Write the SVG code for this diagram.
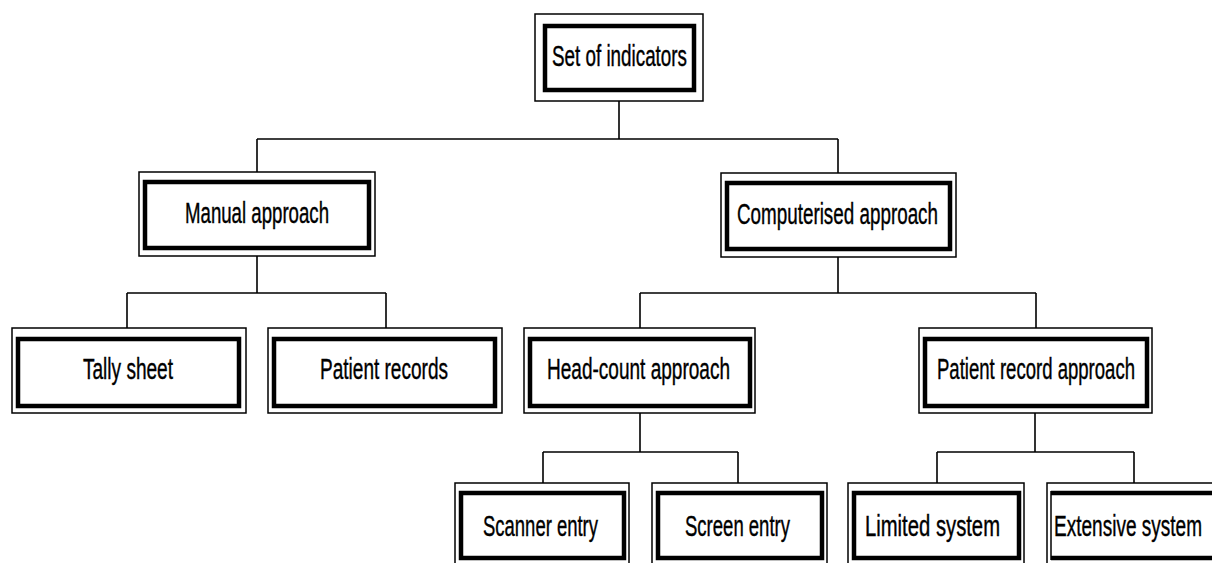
<svg xmlns="http://www.w3.org/2000/svg" width="1212" height="563" viewBox="0 0 1212 563">
<style>
.o{fill:#fff;stroke:#000;stroke-width:1.5}
.i{fill:none;stroke:#000;stroke-width:4.5}
.th{fill:none;stroke:#000;stroke-width:1.5}
.t{font-family:"Liberation Sans",Arial,sans-serif;font-size:29px;fill:#000;stroke:#000;stroke-width:0.4;text-anchor:middle}
.c{fill:none;stroke:#000;stroke-width:1.6}
</style>
<rect width="1212" height="563" fill="#fff"/>
<g id="connectors" class="c">
<path d="M619 101V139M257 139H838M257 139V172M838 139V173"/>
<path d="M257 256V293M127 293H386M127 293V328M386 293V328"/>
<path d="M838 257V293M640 293H1036M640 293V328M1036 293V328"/>
<path d="M640 413V452M543 452H738M543 452V483M738 452V483"/>
<path d="M1035 413V452M937 452H1134M937 452V483M1134 452V483"/>
</g>
<g id="n-set">
<rect class="o" x="535" y="14" width="168" height="87"/>
<rect class="i" x="545" y="26" width="149" height="64"/>
<text class="t" x="619.5" y="66" textLength="135" lengthAdjust="spacingAndGlyphs">Set of indicators</text>
</g>
<g id="n-manual">
<rect class="o" x="139" y="172" width="236" height="84"/>
<rect class="i" x="145" y="182" width="224" height="66"/>
<text class="t" x="257" y="223" textLength="144" lengthAdjust="spacingAndGlyphs">Manual approach</text>
</g>
<g id="n-comp">
<rect class="o" x="721" y="173" width="235" height="84"/>
<rect class="i" x="727" y="183" width="223" height="66"/>
<text class="t" x="837.5" y="224" textLength="201" lengthAdjust="spacingAndGlyphs">Computerised approach</text>
</g>
<g id="n-tally">
<rect class="o" x="12" y="328" width="234" height="85"/>
<rect class="i" x="18" y="339" width="221" height="67"/>
<text class="t" x="128" y="379" textLength="90" lengthAdjust="spacingAndGlyphs">Tally sheet</text>
</g>
<g id="n-precords">
<rect class="o" x="268" y="328" width="234" height="85"/>
<rect class="i" x="274" y="339" width="221" height="67"/>
<text class="t" x="384" y="379" textLength="128" lengthAdjust="spacingAndGlyphs">Patient records</text>
</g>
<g id="n-head">
<rect class="o" x="524" y="328" width="231" height="85"/>
<rect class="i" x="530" y="339" width="220" height="67"/>
<text class="t" x="638.5" y="379" textLength="183" lengthAdjust="spacingAndGlyphs">Head-count approach</text>
</g>
<g id="n-prapproach">
<rect class="o" x="919" y="328" width="233" height="85"/>
<rect class="i" x="925" y="339" width="222" height="67"/>
<text class="t" x="1036" y="379" textLength="198" lengthAdjust="spacingAndGlyphs">Patient record approach</text>
</g>
<g id="n-scanner">
<rect class="o" x="455" y="483" width="174" height="85"/>
<rect class="i" x="461" y="493" width="163" height="65"/>
<text class="t" x="540.5" y="536" textLength="115" lengthAdjust="spacingAndGlyphs">Scanner entry</text>
</g>
<g id="n-screen">
<rect class="o" x="652" y="483" width="175" height="85"/>
<rect class="i" x="658" y="493" width="164" height="65"/>
<text class="t" x="737.5" y="536" textLength="105" lengthAdjust="spacingAndGlyphs">Screen entry</text>
</g>
<g id="n-limited">
<rect class="o" x="848" y="483" width="176" height="85"/>
<rect class="i" x="854" y="493" width="165" height="65"/>
<text class="t" x="932.5" y="536" textLength="135" lengthAdjust="spacingAndGlyphs">Limited system</text>
</g>
<g id="n-extensive">
<rect class="o" x="1047" y="483" width="180" height="85"/>
<path class="i" d="M1051 493H1230M1051 558H1230"/>
<path class="th" d="M1051 491V560"/>
<text class="t" x="1128" y="536" textLength="148" lengthAdjust="spacingAndGlyphs">Extensive system</text>
</g>
</svg>
